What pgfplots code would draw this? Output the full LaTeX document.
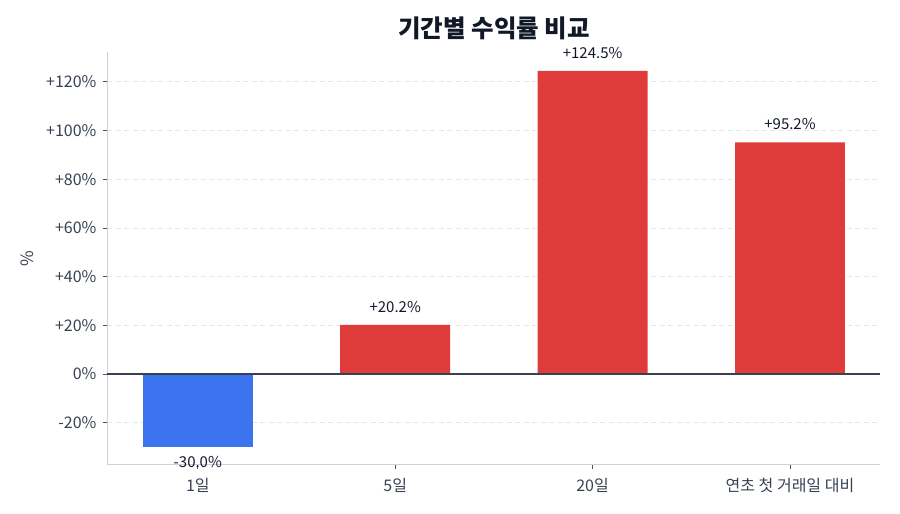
\documentclass[border=0pt]{standalone}
\usepackage{fontspec}
\setmainfont{Noto Sans CJK KR}
\usepackage{pgfplots}
\pgfplotsset{compat=1.18}
\definecolor{barblue}{HTML}{3B74EE}
\definecolor{barred}{HTML}{DF3B3B}
\definecolor{ticktext}{HTML}{374151}
\definecolor{tickc}{HTML}{4B5563}
\definecolor{spine}{HTML}{CBD2DA}
\definecolor{gridc}{HTML}{E3E7EB}
\definecolor{zeroc}{HTML}{374151}
\definecolor{titlec}{HTML}{111827}
\begin{document}
\begin{tikzpicture}
\path (0,0) rectangle (900pt,514pt);
\begin{axis}[at={(107pt,49pt)}, anchor=south west, scale only axis,
  width=773pt, height=413pt,
  xmin=-0.46, xmax=3.456, ymin=-37.4, ymax=132.3,
  axis x line*=bottom, axis y line*=left,
  axis line style={spine, line width=1pt},
  xtick={0,1,2,3}, xticklabels={1일,5일,20일,연초 첫 거래일 대비},
  ytick={-20,0,20,40,60,80,100,120},
  yticklabels={-20\%,0\%,+20\%,+40\%,+60\%,+80\%,+100\%,+120\%},
  tick style={tickc, line width=0.9pt}, tick align=outside, major tick length=4.5pt,
  ticklabel style={font=\fontsize{16}{19}\selectfont, text=ticktext},
  xticklabel style={yshift=-5pt},
  yticklabel style={xshift=-2.5pt},
  ymajorgrids, grid style={gridc, dash pattern=on 5pt off 3.5pt, line width=0.9pt},
  clip=false,
]
\addplot[ybar, bar width=0.557, bar shift=0pt, fill=barblue, draw=none,
  nodes near coords, point meta=explicit symbolic,
  nodes near coords style={font=\fontsize{15}{17}\selectfont, text=titlec, anchor=base, yshift=-20.5pt, inner sep=0pt}]
  coordinates {(0,-30.0) [-30.0\%]};
\addplot[ybar, bar width=0.557, bar shift=0pt, fill=barred, draw=none,
  nodes near coords, point meta=explicit symbolic,
  nodes near coords style={font=\fontsize{15}{17}\selectfont, text=titlec, anchor=base, yshift=12.5pt, inner sep=0pt}]
  coordinates {(1,20.2) [+20.2\%] (2,124.5) [+124.5\%] (3,95.2) [+95.2\%]};
\draw[zeroc, line width=1.3pt] (axis cs:-0.46,0) -- (axis cs:3.456,0);
\end{axis}
\node[font=\bfseries\fontsize{24.5}{28}\selectfont, text=titlec] at (494pt,486pt) {기간별 수익률 비교};
\node[font=\fontsize{17}{19}\selectfont, text=ticktext, rotate=90] at (27pt,255pt) {\%};
\end{tikzpicture}
\end{document}
